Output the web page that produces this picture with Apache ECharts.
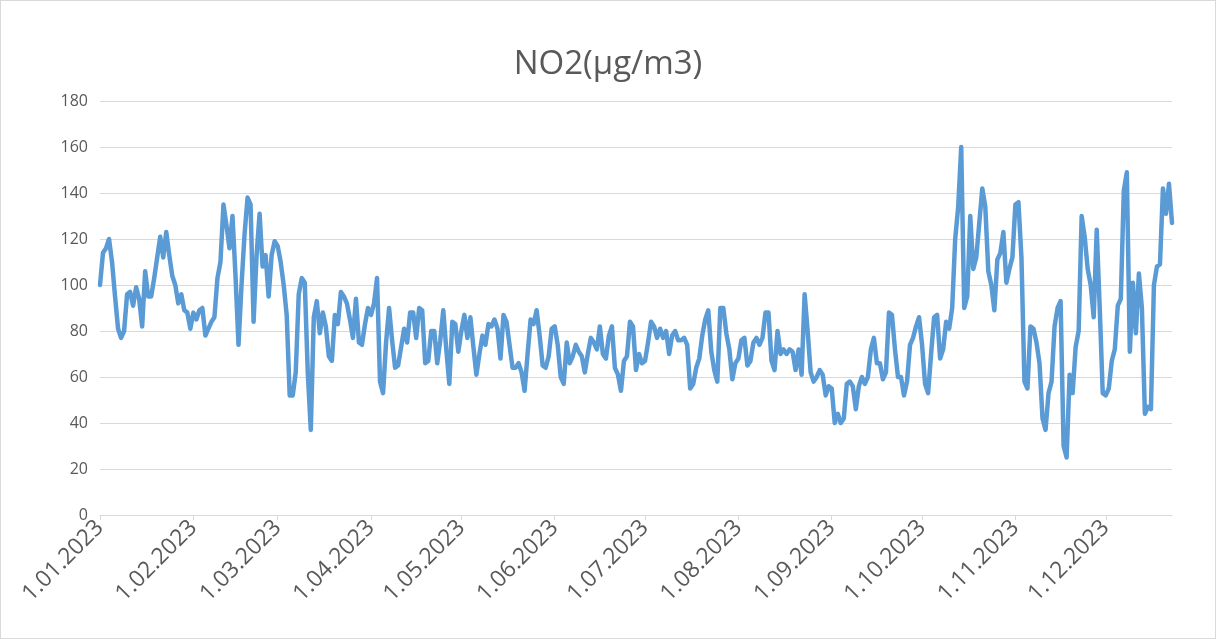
<!DOCTYPE html>
<html>
<head>
<meta charset="utf-8">
<title>NO2</title>
<script src="https://cdn.jsdelivr.net/npm/echarts@6/dist/echarts.min.js"></script>
<style>
    body { margin: 0; background: #fff; }
    #chart { width: 1214px; height: 637px; border: 1px solid #d9d9d9; }
</style>
</head>
<body>
<div id="chart"></div>
<script>
// daily NO2 values, one array per month (2023)
var jan = [100, 114, 116, 120, 110, 95, 81, 77, 80, 96, 97, 91, 99, 94, 82, 106, 95, 95, 103, 112, 121, 112, 123, 113, 104, 100, 92, 96, 89, 88, 81];
var feb = [88, 85, 89, 90, 78, 81, 84, 86, 103, 110, 135, 126, 116, 130, 104, 74, 100, 122, 138, 135, 84, 113, 131, 108, 113, 95, 113, 119];
var mar = [117, 110, 100, 87, 52, 52, 62, 96, 103, 101, 62, 37, 86, 93, 79, 88, 82, 69, 67, 87, 83, 97, 95, 92, 85, 77, 94, 75, 74, 83, 90];
var apr = [87, 92, 103, 58, 53, 75, 90, 76, 64, 65, 73, 81, 75, 88, 88, 77, 90, 89, 66, 67, 80, 80, 66, 76, 89, 72, 57, 84, 83, 71];
var may = [80, 87, 77, 86, 73, 61, 70, 78, 74, 83, 82, 85, 81, 68, 87, 84, 74, 64, 64, 66, 62, 54, 70, 85, 83, 89, 78, 65, 64, 69, 81];
var jun = [82, 74, 60, 57, 75, 66, 69, 74, 71, 69, 62, 70, 77, 75, 72, 82, 70, 68, 78, 82, 64, 61, 54, 67, 69, 84, 82, 63, 70, 66];
var jul = [67, 75, 84, 82, 77, 81, 77, 80, 70, 78, 80, 76, 76, 77, 74, 55, 57, 64, 68, 78, 85, 89, 71, 63, 58, 90, 90, 79, 72, 59, 66];
var aug = [68, 76, 77, 65, 67, 75, 77, 74, 77, 88, 88, 67, 63, 80, 70, 72, 70, 72, 71, 63, 72, 61, 96, 80, 62, 58, 60, 63, 61, 52, 56];
var sep = [55, 40, 44, 40, 42, 57, 58, 56, 46, 56, 60, 57, 60, 72, 77, 66, 66, 59, 62, 88, 87, 72, 60, 60, 52, 58, 74, 77, 82, 86];
var oct = [74, 57, 53, 70, 86, 87, 68, 72, 84, 81, 90, 120, 134, 160, 90, 95, 130, 107, 112, 127, 142, 134, 106, 100, 89, 111, 114, 123, 101, 107, 112];
var nov = [135, 136, 112, 58, 55, 82, 81, 75, 66, 42, 37, 53, 58, 82, 90, 93, 30, 25, 61, 53, 73, 80, 130, 121, 107, 100, 86, 124, 90, 53];
var dec = [52, 55, 67, 72, 91, 94, 141, 149, 71, 101, 79, 105, 90, 44, 47, 46, 100, 108, 109, 142, 131, 144, 127];

var months = [jan, feb, mar, apr, may, jun, jul, aug, sep, oct, nov, dec];
var yTicks = [0, 20, 40, 60, 80, 100, 120, 140, 160, 180];

var dates = [];
var values = [];
months.forEach(function (m, mi) {
    var mm = (mi + 1 < 10 ? '0' : '') + (mi + 1);
    m.forEach(function (v, di) {
        dates.push((di + 1) + '.' + mm + '.2023');
        values.push(v);
    });
});

function isMonthStart(index, value) {
    return value.indexOf('1.') === 0 && value.charAt(1) === '.';
}

var chart = echarts.init(document.getElementById('chart'));
chart.setOption({
    backgroundColor: '#ffffff',
    animation: false,
    title: {
        text: 'NO2(µg/m3)',
        left: 'center',
        top: 42,
        textStyle: {
            fontFamily: 'Open Sans',
            fontSize: 33,
            fontWeight: 'normal',
            color: '#595959'
        }
    },
    grid: {
        left: 99,
        right: 43,
        top: 100,
        bottom: 123
    },
    xAxis: {
        type: 'category',
        data: dates,
        boundaryGap: false,
        axisLine: { lineStyle: { color: '#d9d9d9', width: 1 } },
        axisTick: {
            interval: isMonthStart,
            length: 5,
            lineStyle: { color: '#d9d9d9' }
        },
        axisLabel: {
            interval: isMonthStart,
            rotate: 45,
            margin: 9,
            fontFamily: 'Open Sans',
            fontSize: 23,
            color: '#595959'
        }
    },
    yAxis: {
        type: 'value',
        min: yTicks[0],
        max: yTicks[yTicks.length - 1],
        interval: 20,
        axisLine: { show: false },
        axisTick: { show: false },
        splitLine: { lineStyle: { color: '#d9d9d9', width: 1 } },
        axisLabel: {
            margin: 12,
            fontFamily: 'Open Sans',
            fontSize: 16,
            color: '#595959'
        }
    },
    series: [{
        name: 'NO2',
        type: 'line',
        data: values,
        showSymbol: false,
        lineStyle: { color: '#5b9bd5', width: 4.5, join: 'round', cap: 'round' }
    }]
});
</script>
</body>
</html>
